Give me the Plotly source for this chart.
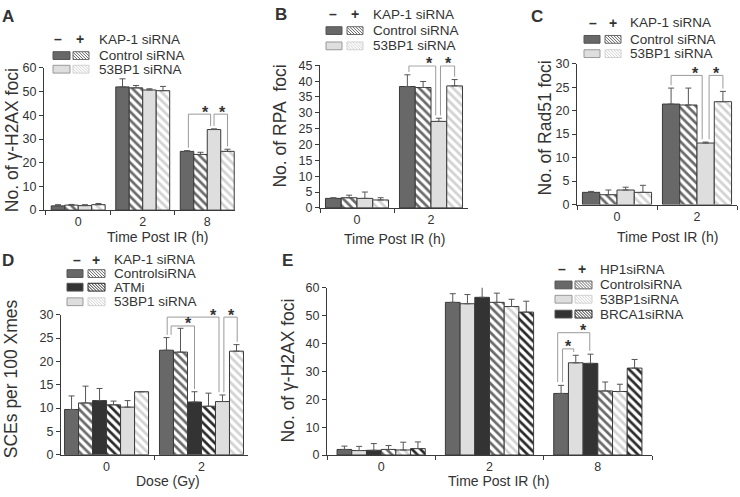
import plotly.graph_objects as go

W, H = 740, 497
FONT = "Arial, Liberation Sans, Helvetica, sans-serif"
TXT = "#333333"

# ---------------- data ----------------
# Panel A: No. of γ-H2AX foci (KAP-1 siRNA -/+)
a_categories = ["0", "2", "8"]
a_ctrl_minus = [1.8, 52.0, 24.8]
a_ctrl_minus_err = [0.5, 3.4, 0.3]
a_ctrl_plus = [2.1, 51.6, 23.5]
a_ctrl_plus_err = [0.3, 1.0, 0.9]
a_53bp1_minus = [1.9, 50.7, 34.0]
a_53bp1_minus_err = [0.4, 0.5, 0.3]
a_53bp1_plus = [2.3, 50.4, 24.8]
a_53bp1_plus_err = [0.5, 1.8, 0.9]

# Panel B: No. of RPA foci
b_categories = ["0", "2"]
b_ctrl_minus = [3.0, 38.3]
b_ctrl_minus_err = [0.2, 3.7]
b_ctrl_plus = [3.2, 38.0]
b_ctrl_plus_err = [0.8, 1.9]
b_53bp1_minus = [3.0, 27.3]
b_53bp1_minus_err = [2.0, 1.0]
b_53bp1_plus = [2.5, 38.5]
b_53bp1_plus_err = [0.7, 2.0]

# Panel C: No. of Rad51 foci
c_categories = ["0", "2"]
c_ctrl_minus = [2.6, 21.4]
c_ctrl_minus_err = [0.2, 3.4]
c_ctrl_plus = [2.1, 21.2]
c_ctrl_plus_err = [1.0, 3.6]
c_53bp1_minus = [3.1, 13.1]
c_53bp1_minus_err = [0.6, 0.2]
c_53bp1_plus = [2.6, 21.9]
c_53bp1_plus_err = [1.5, 2.2]

# Panel D: SCEs per 100 Xmes
d_categories = ["0", "2"]
d_ctrl_minus = [9.7, 22.4]
d_ctrl_minus_err = [2.9, 2.7]
d_ctrl_plus = [11.1, 22.0]
d_ctrl_plus_err = [3.6, 5.1]
d_atmi_minus = [11.6, 11.3]
d_atmi_minus_err = [2.6, 2.2]
d_atmi_plus = [10.7, 10.4]
d_atmi_plus_err = [0.8, 2.8]
d_53bp1_minus = [10.2, 11.4]
d_53bp1_minus_err = [1.4, 1.4]
d_53bp1_plus = [13.5, 22.2]
d_53bp1_plus_err = [0.0, 1.4]

# Panel E: No. of γ-H2AX foci (HP1 siRNA -/+)
e_categories = ["0", "2", "8"]
e_ctrl_minus = [2.0, 54.8, 22.1]
e_ctrl_minus_err = [1.2, 3.1, 2.9]
e_53bp1_minus = [1.6, 54.3, 33.1]
e_53bp1_minus_err = [1.5, 3.3, 2.7]
e_brca1_minus = [1.7, 56.6, 32.9]
e_brca1_minus_err = [2.4, 3.9, 3.3]
e_ctrl_plus = [2.0, 54.8, 23.0]
e_ctrl_plus_err = [1.4, 3.3, 3.2]
e_53bp1_plus = [1.8, 53.3, 22.8]
e_53bp1_plus_err = [2.8, 2.6, 2.6]
e_brca1_plus = [2.3, 51.3, 31.2]
e_brca1_plus_err = [2.4, 3.9, 3.1]

# ---------------- styles ----------------
MID = "#686868"
LIGHT = "#dedede"
DARK = "#333333"
HATCH_MID = "#6a6a6a"
HATCH_LIGHT = "#d2d2d2"
HATCH_DARK = "#2a2a2a"
OUTLINE = "#3a3a3a"
BRACKET = "#9a9a9a"


def solid(color):
    return dict(kind="solid", color=color)


def hatch(color):
    return dict(kind="hatch", color=color)


fig = go.Figure()
shapes = []
annotations = []
layout_axes = {}


def px_x(v):
    return v / W


def px_y(v):
    return 1 - v / H


def text(x, y, s, size, xanchor="center", angle=0, bold=False, xref="paper", yref="paper", yshift=0):
    annotations.append(dict(
        x=x, y=y, xref=xref, yref=yref, text=("<b>%s</b>" % s) if bold else s,
        showarrow=False, xanchor=xanchor, yanchor="middle", textangle=angle,
        yshift=yshift, font=dict(family=FONT, size=size, color=TXT)))


def add_panel(idx, cats, series, box, yrange, dtick, xrange, bw, brackets):
    xa, ya = "x%d" % idx, "y%d" % idx
    n = len(series)
    for k, (vals, errs, style) in enumerate(series):
        if style["kind"] == "solid":
            marker = dict(color=style["color"], line=dict(color=OUTLINE, width=1))
        else:
            marker = dict(color="white", line=dict(color=OUTLINE, width=1),
                          pattern=dict(shape="\\", fgcolor=style["color"], bgcolor="white",
                                       size=6, solidity=0.45, fillmode="replace"))
        fig.add_trace(go.Bar(
            x=cats, y=vals, xaxis=xa, yaxis=ya, width=bw, offset=-n * bw / 2 + k * bw,
            marker=marker, showlegend=False, hoverinfo="skip",
            error_y=dict(type="data", symmetric=False, array=errs, arrayminus=[0] * len(errs),
                         color="#555555", thickness=1, width=3)))
    x0, x1, ytop, ybot = box
    key = "" if idx == 1 else str(idx)
    layout_axes["xaxis" + key] = dict(
        domain=[px_x(x0), px_x(x1)], anchor=ya, type="category", range=xrange,
        showline=True, linecolor=OUTLINE, linewidth=1, ticks="outside", tickson="boundaries",
        ticklen=4, tickcolor=OUTLINE, showgrid=False, zeroline=False,
        tickfont=dict(family=FONT, size=12.5, color=TXT), fixedrange=True)
    layout_axes["yaxis" + key] = dict(
        domain=[px_y(ybot), px_y(ytop)], anchor=xa, range=yrange, dtick=dtick,
        showline=True, linecolor=OUTLINE, linewidth=1, ticks="outside", ticklen=4,
        tickcolor=OUTLINE, showgrid=False, zeroline=False,
        tickfont=dict(family=FONT, size=12.5, color=TXT), fixedrange=True)

    gap = 0.02 * (yrange[1] - yrange[0])

    def center(c, k):
        return c + (-n / 2 + k + 0.5) * bw

    for (c, i, j, level, ln, rn) in brackets:
        xl = center(c, i) + ln * bw
        xr = center(c, j) + rn * bw
        yl = series[i][0][c] + series[i][1][c] + gap
        yr = series[j][0][c] + series[j][1][c] + gap
        for (ax0, ay0, ax1, ay1) in [(xl, yl, xl, level), (xl, level, xr, level), (xr, level, xr, yr)]:
            shapes.append(dict(type="line", xref=xa, yref=ya, x0=ax0, y0=ay0, x1=ax1, y1=ay1,
                               line=dict(color=BRACKET, width=1)))
        sx = max((xl + xr) / 2, xr - 0.4 * bw)
        text(sx, level, "*", 16, xref=xa, yref=ya, yshift=2, bold=True)


def hatch_path(x0, y0, x1, y1, s):
    segs = []
    c = (y0 - x1) + s / 2
    while c < (y1 - x0):
        xa = max(x0, y0 - c)
        xb = min(x1, y1 - c)
        if xb > xa:
            segs.append("M%.4f,%.4f L%.4f,%.4f" % (px_x(xa), px_y(xa + c), px_x(xb), px_y(xb + c)))
        c += s
    return " ".join(segs)


def legend(header, header_y, minus_x, plus_x, text_x, rows, sw1, sw2):
    text(px_x(minus_x), px_y(header_y), "–", 14, bold=True)
    text(px_x(plus_x), px_y(header_y), "+", 14, bold=True)
    text(px_x(text_x), px_y(header_y), header, 13.5, xanchor="left")
    for (ry, label, solid_color, hatch_color) in rows:
        y0, y1 = ry - 4, ry + 4
        border = "#999999" if solid_color == LIGHT else "#555555"
        shapes.append(dict(type="rect", xref="paper", yref="paper", x0=px_x(sw1[0]), x1=px_x(sw1[1]),
                           y0=px_y(y1), y1=px_y(y0), fillcolor=solid_color, line=dict(color=border, width=1)))
        shapes.append(dict(type="rect", xref="paper", yref="paper", x0=px_x(sw2[0]), x1=px_x(sw2[1]),
                           y0=px_y(y1), y1=px_y(y0), fillcolor="white", line=dict(color=hatch_color, width=1)))
        shapes.append(dict(type="path", xref="paper", yref="paper",
                           path=hatch_path(sw2[0], y0, sw2[1], y1, 3),
                           line=dict(color=hatch_color, width=1)))
        text(px_x(text_x), px_y(ry), label, 13.5, xanchor="left")


# ---------------- panels ----------------
add_panel(1, a_categories, [
    (a_ctrl_minus, a_ctrl_minus_err, solid(MID)),
    (a_ctrl_plus, a_ctrl_plus_err, hatch(HATCH_MID)),
    (a_53bp1_minus, a_53bp1_minus_err, solid(LIGHT)),
    (a_53bp1_plus, a_53bp1_plus_err, hatch(HATCH_LIGHT)),
], (44, 235, 62.7, 209), [0, 60], 10, [-0.53, 2.43], 0.209,
    [(2, 0, 2, 40.5, 0.1, -0.25), (2, 2, 3, 40.5, 0.0, 0.0)])

add_panel(2, b_categories, [
    (b_ctrl_minus, b_ctrl_minus_err, solid(MID)),
    (b_ctrl_plus, b_ctrl_plus_err, hatch(HATCH_MID)),
    (b_53bp1_minus, b_53bp1_minus_err, solid(LIGHT)),
    (b_53bp1_plus, b_53bp1_plus_err, hatch(HATCH_LIGHT)),
], (320, 468, 60, 206.7), [0, 45], 5, [-0.5, 1.5], 0.213,
    [(1, 0, 2, 44.8, 0.1, -0.2), (1, 2, 3, 44.8, 0.1, 0.0)])

add_panel(3, c_categories, [
    (c_ctrl_minus, c_ctrl_minus_err, solid(MID)),
    (c_ctrl_plus, c_ctrl_plus_err, hatch(HATCH_MID)),
    (c_53bp1_minus, c_53bp1_minus_err, solid(LIGHT)),
    (c_53bp1_plus, c_53bp1_plus_err, hatch(HATCH_LIGHT)),
], (577, 737, 58.3, 203.3), [0, 30], 5, [-0.5, 1.5], 0.216,
    [(1, 0, 2, 27.5, 0.0, -0.2), (1, 2, 3, 27.5, 0.2, 0.0)])

add_panel(4, d_categories, [
    (d_ctrl_minus, d_ctrl_minus_err, solid(MID)),
    (d_ctrl_plus, d_ctrl_plus_err, hatch(HATCH_MID)),
    (d_atmi_minus, d_atmi_minus_err, solid(DARK)),
    (d_atmi_plus, d_atmi_plus_err, hatch(HATCH_DARK)),
    (d_53bp1_minus, d_53bp1_minus_err, solid(LIGHT)),
    (d_53bp1_plus, d_53bp1_plus_err, hatch(HATCH_LIGHT)),
], (61, 248, 316.7, 460.7), [0, 30], 5, [-0.48, 1.49], 0.1475,
    [(1, 0, 4, 29.5, 0.05, -0.25), (1, 0, 2, 27.6, 0.33, 0.0), (1, 4, 5, 29.5, 0.1, 0.05)])

add_panel(5, e_categories, [
    (e_ctrl_minus, e_ctrl_minus_err, solid(MID)),
    (e_53bp1_minus, e_53bp1_minus_err, solid(LIGHT)),
    (e_brca1_minus, e_brca1_minus_err, solid(DARK)),
    (e_ctrl_plus, e_ctrl_plus_err, hatch(HATCH_MID)),
    (e_53bp1_plus, e_53bp1_plus_err, hatch(HATCH_LIGHT)),
    (e_brca1_plus, e_brca1_plus_err, hatch(HATCH_DARK)),
], (327, 652, 289, 461), [0, 60], 10, [-0.5, 2.5], 0.1357,
    [(2, 0, 2, 43.9, -0.23, -0.05), (2, 0, 1, 38.1, 0.1, -0.14)])

# ---------------- legends ----------------
legend("KAP-1 siRNA", 33, 58, 80, 97,
       [(50, "Control siRNA", MID, HATCH_MID), (64, "53BP1 siRNA", LIGHT, HATCH_LIGHT)],
       (53, 70), (73, 89))
legend("KAP-1 siRNA", 7.5, 333, 355, 371,
       [(24.3, "Control siRNA", MID, HATCH_MID), (40, "53BP1 siRNA", LIGHT, HATCH_LIGHT)],
       (326, 342), (347, 363))
legend("KAP-1 siRNA", 16, 593, 613, 628,
       [(33.3, "Control siRNA", MID, HATCH_MID), (48, "53BP1 siRNA", LIGHT, HATCH_LIGHT)],
       (584, 600), (605, 621))
legend("KAP-1 siRNA", 260, 77, 96, 112,
       [(274.3, "ControlsiRNA", MID, HATCH_MID), (288.3, "ATMi", DARK, HATCH_DARK),
        (303.3, "53BP1 siRNA", LIGHT, HATCH_LIGHT)],
       (67, 83), (88, 105))
legend("HP1siRNA", 270, 562, 582, 598,
       [(286, "ControlsiRNA", MID, HATCH_MID), (300.7, "53BP1siRNA", LIGHT, HATCH_LIGHT),
        (316, "BRCA1siRNA", DARK, HATCH_DARK)],
       (555, 572), (575, 592))

# ---------------- titles and panel letters ----------------
text(px_x(8), px_y(10), "A", 17, bold=True)
text(px_x(281), px_y(8), "B", 17, bold=True)
text(px_x(537), px_y(10), "C", 17, bold=True)
text(px_x(8), px_y(261), "D", 17, bold=True)
text(px_x(287), px_y(261), "E", 17, bold=True)

text(px_x(12), px_y(137), "No. of γ-H2AX foci", 17.5, angle=-90)
text(px_x(157), px_y(237), "Time Post IR (h)", 14)
text(px_x(280), px_y(123), "No. of RPA\u00a0 foci", 17.5, angle=-90)
text(px_x(394), px_y(239), "Time Post IR (h)", 14)
text(px_x(545), px_y(125), "No. of Rad51 foci", 17.5, angle=-90)
text(px_x(667), px_y(237), "Time Post IR (h)", 14)
text(px_x(11), px_y(383), "SCEs per 100 Xmes", 17.5, angle=-90)
text(px_x(168), px_y(488), "Dose (Gy)", 14)
text(px_x(288), px_y(374), "No. of γ-H2AX foci", 17.5, angle=-90)
text(px_x(498), px_y(488), "Time Post IR (h)", 14)

fig.update_layout(
    width=W, height=H, margin=dict(l=0, r=0, t=0, b=0),
    paper_bgcolor="white", plot_bgcolor="white", barmode="overlay",
    font=dict(family=FONT, color=TXT), shapes=shapes, annotations=annotations,
    showlegend=False, **layout_axes)

fig.write_html("out.html", config={"displayModeBar": False},
               post_script="document.body.style.margin='0';document.body.style.overflow='hidden';")
